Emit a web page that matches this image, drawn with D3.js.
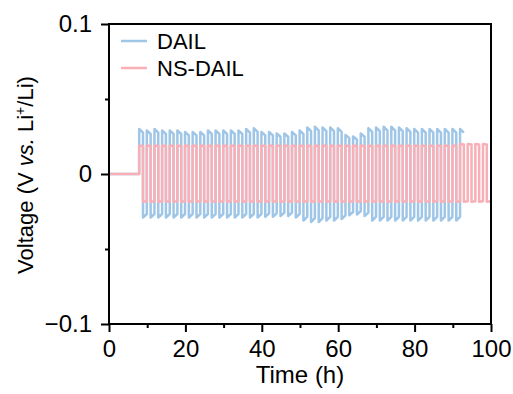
<!DOCTYPE html>
<html>
<head>
<meta charset="utf-8">
<script src="https://cdn.jsdelivr.net/npm/d3@7"></script>
<style>
  body { margin: 0; background: #fff; }
  svg text { font-family: "Liberation Sans", Arial, Helvetica, sans-serif; fill: #000; }
</style>
</head>
<body>
<div id="chart"></div>
<script>
// cycling data, 1 h charge / 1 h discharge, read per cycle off the plot
const cycleStart = 7.9;   // h
const halfPeriod = 1;     // h

// DAIL: peak voltage of each charge / discharge step (V)
const dailHigh = [
  0.030, 0.029, 0.030, 0.029, 0.029, 0.029, 0.028, 0.028, 0.028, 0.029,
  0.029, 0.029, 0.029, 0.029, 0.030, 0.0305, 0.028, 0.028, 0.027, 0.027,
  0.028, 0.029, 0.031, 0.0315, 0.031, 0.031, 0.0305, 0.026, 0.025, 0.027,
  0.0305, 0.031, 0.0315, 0.0315, 0.031, 0.0305, 0.030, 0.030, 0.030, 0.030,
  0.030, 0.030, 0.030
];
const dailLow = [
  -0.029, -0.029, -0.029, -0.029, -0.029, -0.029, -0.029, -0.029, -0.029, -0.029,
  -0.029, -0.029, -0.029, -0.029, -0.029, -0.029, -0.0285, -0.0285, -0.028, -0.028,
  -0.029, -0.031, -0.032, -0.032, -0.031, -0.031, -0.030, -0.0275, -0.027, -0.028,
  -0.031, -0.031, -0.031, -0.031, -0.031, -0.031, -0.031, -0.031, -0.031, -0.031,
  -0.031, -0.031
];

// NS-DAIL
const nsHigh = [
  0.019, 0.019, 0.019, 0.019, 0.019, 0.019, 0.019, 0.019, 0.019, 0.019,
  0.019, 0.019, 0.019, 0.019, 0.019, 0.019, 0.019, 0.019, 0.019, 0.019,
  0.019, 0.019, 0.019, 0.019, 0.019, 0.019, 0.019, 0.019, 0.019, 0.019,
  0.019, 0.019, 0.019, 0.019, 0.019, 0.019, 0.019, 0.019, 0.019, 0.019,
  0.019, 0.019, 0.020, 0.020, 0.020, 0.020
];
const nsLow = [
  -0.0185, -0.0185, -0.0185, -0.0185, -0.0185, -0.0185, -0.0185, -0.0185, -0.0185, -0.0185,
  -0.0185, -0.0185, -0.0185, -0.0185, -0.0185, -0.0185, -0.0185, -0.0185, -0.0185, -0.0185,
  -0.0185, -0.0185, -0.0185, -0.0185, -0.0185, -0.0185, -0.0185, -0.0185, -0.0185, -0.0185,
  -0.0185, -0.0185, -0.0185, -0.0185, -0.0185, -0.0185, -0.0185, -0.0185, -0.0185, -0.0185,
  -0.0185, -0.0185, -0.0185, -0.0185, -0.0185, -0.0185
];

// how far the step relaxes from its first peak by the end of the hour
const dailRelax = 0.92;
const nsRelax = 0.98;

const xTicks = [0, 20, 40, 60, 80, 100];
const xMinor = [10, 30, 50, 70, 90];
const yTicks = [-0.1, 0, 0.1];
const yTickLabels = ["\u22120.1", "0", "0.1"];
const yMinor = [-0.05, 0.05];

const seriesNames = ["DAIL", "NS-DAIL"];
const seriesColors = ["#9fc6e7", "#f8b0b6"];

class VoltageChart {
  constructor(containerEl, props) {
    const { width, height, margin } = props;
    this.width = width;
    this.height = height;
    this.margin = margin;
    this.width_draw = width - margin.left - margin.right;
    this.height_draw = height - margin.top - margin.bottom;

    this.svg = d3.select(containerEl).append("svg")
      .attr("width", width)
      .attr("height", height);
    this.g = this.svg.append("g")
      .attr("transform", `translate(${margin.left},${margin.top})`);

    this.xScale = d3.scaleLinear().domain([0, 100]).range([0, this.width_draw]);
    this.yScale = d3.scaleLinear().domain([-0.1, 0.1]).range([this.height_draw, 0]);

    this.rendorlines();
    this.rendoraxes();
    this.rendorlegend();
  }

  // turn per-step peaks into a square wave (time, voltage)
  buildSteps(high, low, relax) {
    const pts = [[0, 0], [cycleStart, 0]];
    let t = cycleStart;
    for (let i = 0; i < high.length; i++) {
      pts.push([t, high[i]], [t + halfPeriod, high[i] * relax]);
      t += halfPeriod;
      if (i < low.length) {
        pts.push([t, low[i]], [t + halfPeriod, low[i] * relax]);
        t += halfPeriod;
      }
    }
    return pts;
  }

  rendorlines() {
    const line = d3.line()
      .x((d) => this.xScale(d[0]))
      .y((d) => this.yScale(d[1]));

    const series = [
      this.buildSteps(dailHigh, dailLow, dailRelax),
      this.buildSteps(nsHigh, nsLow, nsRelax),
    ];

    this.g.selectAll("path.series")
      .data(series)
      .join("path")
      .attr("class", "series")
      .attr("d", line)
      .attr("fill", "none")
      .attr("stroke", (d, i) => seriesColors[i])
      .attr("stroke-width", 2.5)
      .attr("stroke-linejoin", "round");
  }

  rendoraxes() {
    const fs = "24px";
    const styleAxis = (sel) => {
      sel.select(".domain").remove();
      sel.selectAll("line").attr("stroke", "#000").attr("stroke-width", 2);
      sel.selectAll("text").attr("font-size", fs).attr("fill", "#000");
    };

    // x axis
    this.g.append("g")
      .attr("transform", `translate(0,${this.height_draw})`)
      .call(d3.axisBottom(this.xScale).tickValues(xTicks).tickSize(8).tickPadding(8)
        .tickFormat(d3.format("d")))
      .call(styleAxis);
    this.g.append("g")
      .attr("transform", `translate(0,${this.height_draw})`)
      .call(d3.axisBottom(this.xScale).tickValues(xMinor).tickSize(4).tickFormat(""))
      .call(styleAxis);

    // y axis
    this.g.append("g")
      .call(d3.axisLeft(this.yScale).tickValues(yTicks).tickSize(8).tickPadding(9)
        .tickFormat((d, i) => yTickLabels[i]))
      .call(styleAxis);
    this.g.append("g")
      .call(d3.axisLeft(this.yScale).tickValues(yMinor).tickSize(4).tickFormat(""))
      .call(styleAxis);

    this.g.selectAll("g text").style("font-family", null);

    // frame
    this.g.append("rect")
      .attr("width", this.width_draw)
      .attr("height", this.height_draw)
      .attr("fill", "none")
      .attr("stroke", "#000")
      .attr("stroke-width", 2);

    // titles
    this.svg.append("text")
      .attr("x", this.margin.left + this.width_draw / 2)
      .attr("y", 383)
      .attr("text-anchor", "middle")
      .attr("font-size", fs)
      .text("Time (h)");

    const yt = this.svg.append("text")
      .attr("transform", "translate(33,175) rotate(-90)")
      .attr("text-anchor", "middle")
      .attr("font-size", "22px");
    yt.append("tspan").text("Voltage (V ");
    yt.append("tspan").attr("font-style", "italic").text("vs.");
    yt.append("tspan").text(" Li");
    yt.append("tspan").attr("font-size", "14px").attr("baseline-shift", "super").text("+");
    yt.append("tspan").text("/Li)");
  }

  rendorlegend() {
    const legend = this.g.append("g").attr("transform", "translate(12,17)");
    const rows = legend.selectAll("g")
      .data(seriesNames)
      .join("g")
      .attr("transform", (d, i) => `translate(0,${i * 27})`);
    rows.append("line")
      .attr("x1", 0).attr("x2", 26)
      .attr("stroke", (d, i) => seriesColors[i])
      .attr("stroke-width", 2.5);
    rows.append("text")
      .attr("x", 36)
      .attr("dy", "0.35em")
      .attr("font-size", "22px")
      .text((d) => d);
  }
}

new VoltageChart("#chart", {
  width: 513,
  height: 394,
  margin: { top: 24, right: 22, bottom: 70, left: 109 },
});
</script>
</body>
</html>
